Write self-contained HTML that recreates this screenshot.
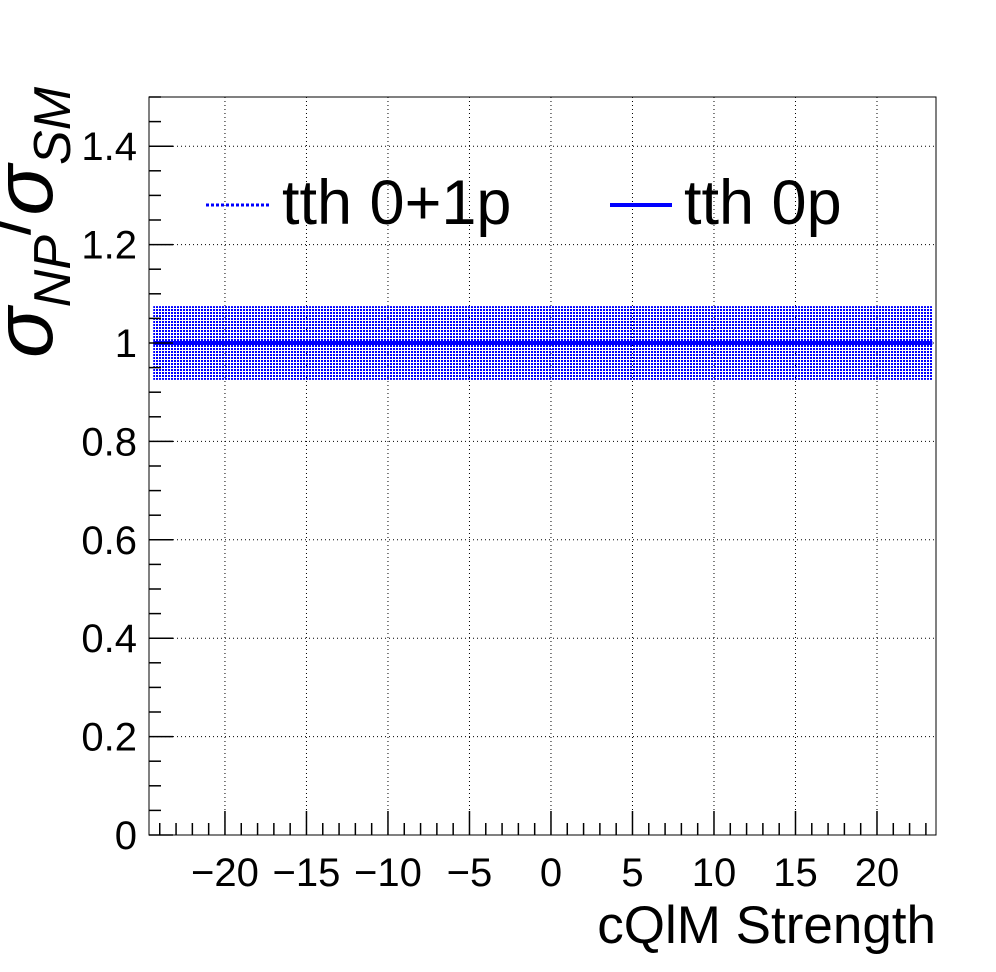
<!DOCTYPE html>
<html><head><meta charset="utf-8"><style>
body{margin:0;background:#fff}
svg{display:block;font-family:"Liberation Sans",sans-serif}
</style></head><body>
<svg id="c" width="996" height="972" viewBox="0 0 996 972" xmlns="http://www.w3.org/2000/svg">
<defs><pattern id="dots" width="3" height="3" patternUnits="userSpaceOnUse"><rect width="2" height="2" fill="#0000ff"/></pattern></defs>
<g id="grid"></g><g id="marks"></g><g id="axes"></g>
<text transform="translate(52,358) rotate(-90)" font-size="84" font-style="italic">σ<tspan font-size="52" dy="18">NP</tspan><tspan dy="-40" font-size="70" font-style="normal">/</tspan><tspan font-size="84" dy="22">σ</tspan><tspan font-size="52" dy="18">SM</tspan></text>
<text x="936" y="943" font-size="53" text-anchor="end">cQlM Strength</text>
<g>
<line x1="206" y1="205" x2="270" y2="205" stroke="#0000ff" stroke-width="3" stroke-dasharray="3,2"/>
<text x="282" y="224" font-size="63">tth 0+1p</text>
<line x1="610" y1="205" x2="672" y2="205" stroke="#0000ff" stroke-width="4"/>
<text x="684" y="224" font-size="63">tth 0p</text>
</g>
</svg>
<script>
const xTicks=[-20,-15,-10,-5,0,5,10,15,20];
const yTicks=[0,0.2,0.4,0.6,0.8,1,1.2,1.4];
const yTickLabels=["0","0.2","0.4","0.6","0.8","1","1.2","1.4"];
const xTickLabels=["\u221220","\u221215","\u221210","\u22125","0","5","10","15","20"];
const bandX=[-24.4,23.4];
const bandLow=[0.925,0.925];
const bandHigh=[1.075,1.075];
const lineX=[-24.4,23.4];
const lineY=[1,1];
const L=149,R=936,T=97,B=835,xmin=-24.66,xmax=23.62,ymin=0,ymax=1.5;
const sx=v=>L+(v-xmin)/(xmax-xmin)*(R-L), sy=v=>B-(v-ymin)/(ymax-ymin)*(B-T);
const NS="http://www.w3.org/2000/svg";
function mk(tag,parent,attrs){const e=document.createElementNS(NS,tag);for(const k in attrs)e.setAttribute(k,attrs[k]);document.getElementById(parent).appendChild(e);return e;}
xTicks.forEach(v=>{const e=mk('line','grid',{x1:sx(v),x2:sx(v),y1:T,y2:B,stroke:'#000','stroke-width':1,'stroke-dasharray':'1,3'});

});
yTicks.forEach(v=>{const e=mk('line','grid',{x1:L,x2:R,y1:sy(v),y2:sy(v),stroke:'#000','stroke-width':1,'stroke-dasharray':'1,3'});

});
let pts=[];for(let i=0;i<bandX.length;i++)pts.push(sx(bandX[i])+','+sy(bandHigh[i]));for(let i=bandX.length-1;i>=0;i--)pts.push(sx(bandX[i])+','+sy(bandLow[i]));
const band=mk('polygon','marks',{points:pts.join(' '),fill:'url(#dots)'});


const ln=mk('polyline','marks',{points:lineX.map((x,i)=>sx(x)+','+sy(lineY[i])).join(' '),fill:'none',stroke:'#0000ff','stroke-width':4});


const fr=mk('rect','axes',{x:L,y:T,width:R-L,height:B-T,fill:'none',stroke:'#000','stroke-width':1});


for(let v=-24;v<=23;v++){const maj=v%5===0;const e=mk('line','axes',{x1:sx(v),x2:sx(v),y1:B,y2:B-(maj?24:12),stroke:'#000','stroke-width':1.5});

}
for(let i=0;i<=30;i++){const v=i*0.05;const maj=i%4===0;const e=mk('line','axes',{x1:L,x2:L+(maj?24:12),y1:sy(v),y2:sy(v),stroke:'#000','stroke-width':1.5});

}
xTicks.forEach((v,i)=>{const t=mk('text','axes',{x:sx(v),y:886,'font-size':40,'text-anchor':'middle'});t.textContent=xTickLabels[i];

});
yTicks.forEach((v,i)=>{const t=mk('text','axes',{x:137,y:sy(v)+14,'font-size':40,'text-anchor':'end'});t.textContent=yTickLabels[i];

});
</script>
</body></html>
